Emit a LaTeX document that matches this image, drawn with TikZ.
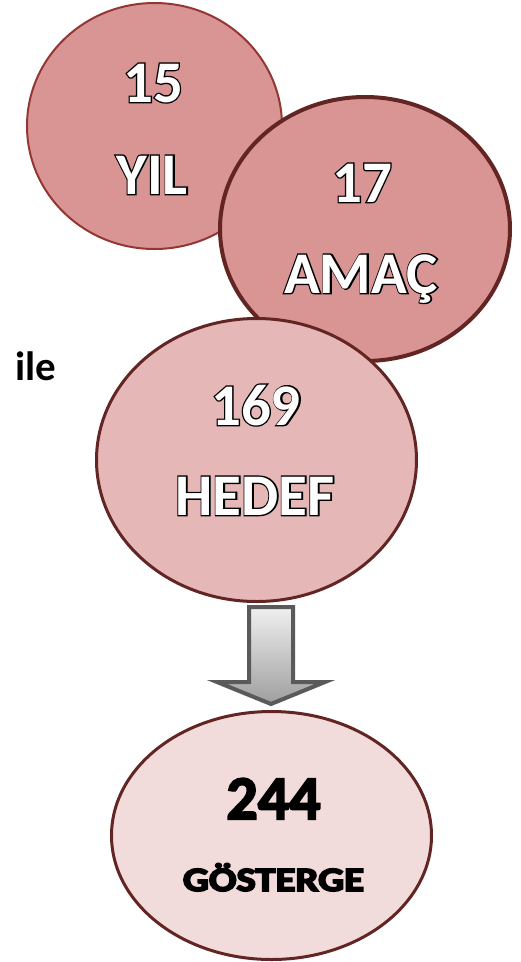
\documentclass[tikz,border=0pt]{standalone}
\usepackage{fontspec}
\setmainfont{Carlito}
\usetikzlibrary{shapes.geometric}
\definecolor{fillA}{HTML}{D99594}
\definecolor{fillB}{HTML}{E5B8B7}
\definecolor{fillC}{HTML}{F2DCDB}
\definecolor{edgeA}{HTML}{943634}
\definecolor{edgeB}{HTML}{632523}
\definecolor{shadowgray}{HTML}{A0A0A0}
\definecolor{arrowedge}{HTML}{5A5A5A}
% white letters with a black outline and a grey drop shadow
\newcommand\embtext[1]{\leavevmode\rlap{\kern1.8pt\raisebox{-1.8pt}{\textcolor{shadowgray}{#1}}}\rlap{\special{pdf:literal direct 0 G 2.6 w 1 Tr}#1\special{pdf:literal direct 0 Tr}}\textcolor{white}{#1}}
% black letters made heavier by stroking
\newcommand\heavytext[2]{\special{pdf:literal direct 0 G #1 w 2 Tr}#2\special{pdf:literal direct 0 Tr}}
\begin{document}
\begin{tikzpicture}[x=1pt,y=-1pt,
  bubble/.style={ellipse,inner sep=0pt,outer sep=0pt},
  bigtxt/.style={anchor=base,inner sep=0pt,font=\bfseries\fontsize{59}{59}\selectfont},
  blacktxt/.style={anchor=base,inner sep=0pt,text=black}]
\useasboundingbox (0,0) rectangle (520,962);
\node[bubble,fill=fillA,draw=edgeA,line width=2pt,minimum width=255pt,minimum height=246pt] (c1) at (154.5,126) {};
\node[bubble,fill=fillA,draw=edgeB,line width=4pt,minimum width=290pt,minimum height=264pt] (c2) at (365,229) {};
\node[bubble,fill=fillB,draw=edgeB,line width=3pt,minimum width=320pt,minimum height=283pt] (c3) at (256.5,460) {};
\draw[line width=4pt,draw=arrowedge,line join=miter,top color=black!6,bottom color=black!38]
  (249,607) -- (293,607) -- (293,682) -- (325,682) -- (271,704) -- (217,682) -- (249,682) -- cycle;
\node[bubble,fill=fillC,draw=edgeB,line width=3pt,minimum width=320pt,minimum height=248pt] (c4) at (271.5,835.5) {};
\node[bigtxt] (t15) at (153,102) {\embtext{15}};
\node[bigtxt] (tyil) at (152,194) {\embtext{YIL}};
\node[bigtxt] (t17) at (362,202) {\embtext{17}};
\node[bigtxt] (tamac) at (361,293) {\embtext{AMAÇ}};
\node[bigtxt] (t169) at (256,425) {\embtext{169}};
\node[bigtxt] (thedef) at (255,515) {\embtext{HEDEF}};
\node[blacktxt,font=\bfseries\fontsize{62}{62}\selectfont] (t244) at (273.5,819) {\heavytext{2}{244}};
\node[blacktxt,font=\bfseries\fontsize{34}{34}\selectfont] (tgos) at (273.5,891) {\scalebox{1.2}[1]{\heavytext{1.6}{GÖSTERGE}}};
\node[anchor=base west,inner sep=0pt,font=\bfseries\fontsize{41}{41}\selectfont] (tile) at (15,380) {ile};
\end{tikzpicture}
\end{document}
